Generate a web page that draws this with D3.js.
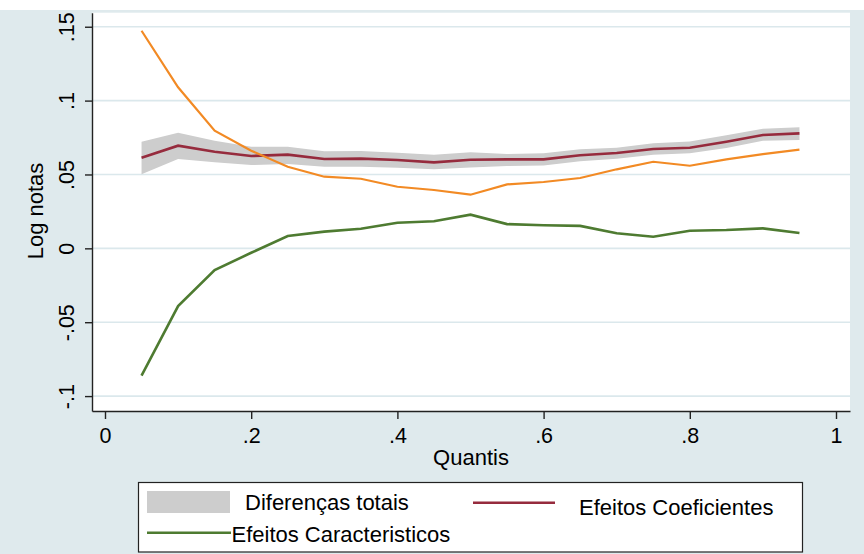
<!DOCTYPE html>
<html>
<head>
<meta charset="utf-8">
<script src="https://cdn.jsdelivr.net/npm/d3@7"></script>
<style>
    body { margin: 0; background: #ffffff; }
    text { font-family: "Liberation Sans", Arial, sans-serif; fill: #000; }
</style>
</head>
<body>
<script>
// Quantile decomposition: total differences band + coefficient / characteristic effects

// Data
let quantis = [0.05, 0.10, 0.15, 0.20, 0.25, 0.30, 0.35, 0.40, 0.45, 0.50,
               0.55, 0.60, 0.65, 0.70, 0.75, 0.80, 0.85, 0.90, 0.95];

let totalDiff = [0.0613, 0.0695, 0.0654, 0.0625, 0.0634, 0.0605, 0.0607, 0.0598, 0.0582, 0.0600,
                 0.0602, 0.0602, 0.0630, 0.0645, 0.0672, 0.0681, 0.0722, 0.0767, 0.0778];
let totalLower = [0.0501, 0.0605, 0.0582, 0.0564, 0.0571, 0.0552, 0.0552, 0.0546, 0.0535, 0.0548,
                  0.0557, 0.0560, 0.0589, 0.0607, 0.0634, 0.0643, 0.0679, 0.0728, 0.0733];
let totalUpper = [0.0722, 0.0783, 0.0729, 0.0688, 0.0688, 0.0657, 0.0659, 0.0647, 0.0634, 0.0650,
                  0.0638, 0.0643, 0.0670, 0.0681, 0.0711, 0.0724, 0.0765, 0.0810, 0.0819];

let efeitosCoef = [0.1473, 0.1090, 0.0796, 0.0661, 0.0552, 0.0485, 0.0471, 0.0417, 0.0395, 0.0363,
                   0.0433, 0.0449, 0.0476, 0.0535, 0.0586, 0.0559, 0.0602, 0.0638, 0.0668];

let efeitosCarac = [-0.0862, -0.0391, -0.0147, -0.0030, 0.0083, 0.0113, 0.0133, 0.0173, 0.0183, 0.0228,
                    0.0164, 0.0156, 0.0152, 0.0102, 0.0079, 0.0119, 0.0124, 0.0135, 0.0104];

let xTicks = [0, 0.2, 0.4, 0.6, 0.8, 1];
let xTickLabels = ["0", ".2", ".4", ".6", ".8", "1"];
let yTicks = [-0.1, -0.05, 0, 0.05, 0.1, 0.15];
let yTickLabels = ["-.1", "-.05", "0", ".05", ".1", ".15"];

// Set up the svg
let svgWidth = 864;
let svgHeight = 554;

let plot = { left: 92, right: 850, top: 12.7, bottom: 411 };

let svg = d3.select("body")
            .append("svg")
            .attr("width", svgWidth)
            .attr("height", svgHeight);

// Graph region background (Stata s2color style)
svg.append("rect")
   .attr("x", 0)
   .attr("y", 10)
   .attr("width", svgWidth)
   .attr("height", svgHeight - 10)
   .attr("fill", "#dfeaed");

svg.append("rect")
   .attr("x", plot.left)
   .attr("y", plot.top)
   .attr("width", plot.right - plot.left)
   .attr("height", plot.bottom - plot.top)
   .attr("fill", "#ffffff");

// Scales
let xScale = d3.scaleLinear()
               .domain([-0.01778, 1.01915])
               .range([plot.left, plot.right]);

let yScale = d3.scaleLinear()
               .domain([-0.1101, 0.1595])
               .range([plot.bottom, plot.top]);

// Gridlines
svg.append("g")
   .selectAll("line")
   .data(yTicks)
   .enter()
   .append("line")
   .attr("x1", plot.left)
   .attr("x2", plot.right)
   .attr("y1", d => yScale(d))
   .attr("y2", d => yScale(d))
   .attr("stroke", "#dbe8ec")
   .attr("stroke-width", 1.6);

// Band for total differences
let band = d3.area()
             .x((d, i) => xScale(quantis[i]))
             .y0((d, i) => yScale(totalLower[i]))
             .y1((d, i) => yScale(totalUpper[i]));

svg.append("path")
   .datum(totalDiff)
   .attr("d", band)
   .attr("fill", "#cdcdcd");

// Lines
let lineOf = values => d3.line()
                         .x((d, i) => xScale(quantis[i]))
                         .y(d => yScale(d))(values);

svg.append("path")
   .attr("d", lineOf(totalDiff))
   .attr("fill", "none")
   .attr("stroke", "#962b3d")
   .attr("stroke-width", 2.6);

svg.append("path")
   .attr("d", lineOf(efeitosCoef))
   .attr("fill", "none")
   .attr("stroke", "#f28a24")
   .attr("stroke-width", 2.2);

svg.append("path")
   .attr("d", lineOf(efeitosCarac))
   .attr("fill", "none")
   .attr("stroke", "#4e7b31")
   .attr("stroke-width", 2.6);

// Axes
let bottomAxis = d3.axisBottom(xScale)
                   .tickValues(xTicks)
                   .tickFormat((d, i) => xTickLabels[i])
                   .tickSizeInner(8)
                   .tickSizeOuter(0)
                   .tickPadding(4);

let xAxisG = svg.append("g")
                .attr("transform", `translate(0, ${plot.bottom})`)
                .call(bottomAxis);

xAxisG.selectAll("text")
      .attr("font-size", "21.5px")
      .attr("fill", "#000")
      .attr("dy", "0.95em");

let leftAxis = d3.axisLeft(yScale)
                 .tickValues(yTicks)
                 .tickFormat((d, i) => yTickLabels[i])
                 .tickSizeInner(7)
                 .tickSizeOuter(0);

let yAxisG = svg.append("g")
                .attr("transform", `translate(${plot.left}, 0)`)
                .call(leftAxis);

yAxisG.selectAll("text")
      .attr("font-size", "21.5px")
      .attr("fill", "#000")
      .attr("x", null)
      .attr("dy", null)
      .attr("text-anchor", "middle")
      .attr("transform", "translate(-18.5, 0) rotate(-90)");

svg.selectAll(".domain, .tick line")
   .attr("stroke", "#222")
   .attr("stroke-width", 1.4);

// Axis titles
svg.append("text")
   .attr("transform", "translate(43, 211) rotate(-90)")
   .attr("text-anchor", "middle")
   .attr("font-size", "22px")
   .text("Log notas");

svg.append("text")
   .attr("x", 471)
   .attr("y", 464.5)
   .attr("text-anchor", "middle")
   .attr("font-size", "22px")
   .text("Quantis");

// Legend
let legend = svg.append("g");

legend.append("rect")
      .attr("x", 138.5)
      .attr("y", 482.5)
      .attr("width", 664)
      .attr("height", 69.5)
      .attr("fill", "#ffffff")
      .attr("stroke", "#222")
      .attr("stroke-width", 1.2);

legend.append("rect")
      .attr("x", 147)
      .attr("y", 491)
      .attr("width", 83)
      .attr("height", 22)
      .attr("fill", "#cdcdcd");

legend.append("text")
      .attr("x", 245)
      .attr("y", 509.5)
      .attr("font-size", "22px")
      .text("Diferenças totais");

legend.append("line")
      .attr("x1", 473)
      .attr("x2", 555)
      .attr("y1", 502.7)
      .attr("y2", 502.7)
      .attr("stroke", "#962b3d")
      .attr("stroke-width", 2.6);

legend.append("text")
      .attr("x", 579)
      .attr("y", 515)
      .attr("font-size", "22px")
      .text("Efeitos Coeficientes");

legend.append("line")
      .attr("x1", 147)
      .attr("x2", 231)
      .attr("y1", 532.7)
      .attr("y2", 532.7)
      .attr("stroke", "#4e7b31")
      .attr("stroke-width", 2.6);

legend.append("text")
      .attr("x", 231.5)
      .attr("y", 541.7)
      .attr("font-size", "22px")
      .text("Efeitos Caracteristicos");
</script>
</body>
</html>
